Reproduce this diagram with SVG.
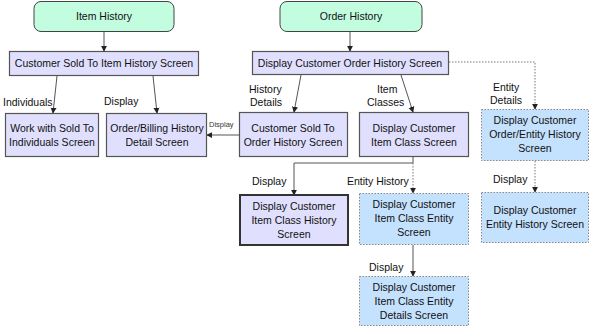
<svg xmlns="http://www.w3.org/2000/svg" width="590" height="326" viewBox="0 0 590 326">
<defs>
<marker id="ah" viewBox="0 0 8 8" refX="7" refY="4" markerWidth="6" markerHeight="7" orient="auto" markerUnits="userSpaceOnUse">
<path d="M0,0 L8,4 L0,8 z" fill="#222"/>
</marker>
</defs>
<style>
.t{font-family:"Liberation Sans",Arial,sans-serif;font-size:10.5px;fill:#111;text-anchor:middle}
.l{font-family:"Liberation Sans",Arial,sans-serif;font-size:10.5px;fill:#111}
.s{font-family:"Liberation Sans",Arial,sans-serif;font-size:7.5px;fill:#333}
.g{fill:#c2fde0;stroke:#444;stroke-width:1}
.p{fill:#e0e0fe;stroke:#555;stroke-width:1.2}
.pb{fill:#e0e0fe;stroke:#333;stroke-width:2}
.b{fill:#c4e1fd;stroke:#888;stroke-width:1;stroke-dasharray:1.5,1.5}
.c{fill:none;stroke:#555;stroke-width:1}
.d{fill:none;stroke:#777;stroke-width:1;stroke-dasharray:1.5,1.5}
</style>
<rect width="590" height="326" fill="#fff"/>
<g id="connectors">
<path class="c" d="M104,32 V51" marker-end="url(#ah)"/>
<path class="c" d="M57,76 L53,113" marker-end="url(#ah)"/>
<path class="c" d="M153,76 L157,113" marker-end="url(#ah)"/>
<path class="c" d="M350,32 V51" marker-end="url(#ah)"/>
<path class="c" d="M301,75 L294,112" marker-end="url(#ah)"/>
<path class="c" d="M401,75 L413,112" marker-end="url(#ah)"/>
<path class="d" d="M449,62 H535 V109" marker-end="url(#ah)"/>
<path class="c" d="M239,135 H207" marker-end="url(#ah)"/>
<path class="c" d="M413,157 V163 H294 V195" marker-end="url(#ah)"/>
<path class="d" d="M413,163 V193" marker-end="url(#ah)"/>
<path class="d" d="M535,161 V192" marker-end="url(#ah)"/>
<path class="c" d="M413,245 V276" marker-end="url(#ah)"/>
<text class="l" x="3" y="106">Individuals</text>
<text class="l" x="104" y="105">Display</text>
<text class="l" x="249" y="93">History</text>
<text class="l" x="250" y="106">Details</text>
<text class="l" x="377" y="93">Item</text>
<text class="l" x="367" y="106">Classes</text>
<text class="l" x="493" y="91">Entity</text>
<text class="l" x="490" y="104">Details</text>
<text class="s" x="209" y="127">Display</text>
<text class="l" x="252" y="185">Display</text>
<text class="l" x="347" y="185">Entity History</text>
<text class="l" x="493" y="183">Display</text>
<text class="l" x="369" y="271">Display</text>
</g>
<g id="item-history">
<rect class="g" x="34" y="1.5" width="140" height="30" rx="7"/>
<text class="t" x="104" y="20">Item History</text>
</g>
<g id="order-history">
<rect class="g" x="280" y="1.5" width="142" height="30" rx="7"/>
<text class="t" x="351" y="20">Order History</text>
</g>
<g id="sold-to-item-history">
<rect class="p" x="9.5" y="51.5" width="189" height="24"/>
<text class="t" x="104" y="67">Customer Sold To Item History Screen</text>
</g>
<g id="work-with-sold-to">
<rect class="p" x="5.5" y="113.5" width="93" height="43"/>
<text class="t" x="52" y="132">Work with Sold To</text>
<text class="t" x="52" y="146">Individuals Screen</text>
</g>
<g id="order-billing-detail">
<rect class="p" x="106.5" y="113.5" width="100" height="43"/>
<text class="t" x="157" y="132">Order/Billing History</text>
<text class="t" x="157" y="146">Detail Screen</text>
</g>
<g id="display-order-history">
<rect class="p" x="252.5" y="51.5" width="196" height="23"/>
<text class="t" x="350" y="67">Display Customer Order History Screen</text>
</g>
<g id="sold-to-order-history">
<rect class="p" x="239.5" y="112.5" width="108" height="44"/>
<text class="t" x="293" y="132">Customer Sold To</text>
<text class="t" x="293" y="146">Order History Screen</text>
</g>
<g id="item-class">
<rect class="p" x="359.5" y="112.5" width="109" height="44"/>
<text class="t" x="414" y="132">Display Customer</text>
<text class="t" x="414" y="146">Item Class Screen</text>
</g>
<g id="order-entity-history">
<rect class="b" x="481.5" y="109.5" width="107" height="51"/>
<text class="t" x="535" y="124">Display Customer</text>
<text class="t" x="535" y="138">Order/Entity History</text>
<text class="t" x="535" y="152">Screen</text>
</g>
<g id="item-class-history">
<rect class="pb" x="240" y="195" width="108" height="50"/>
<text class="t" x="294" y="210">Display Customer</text>
<text class="t" x="294" y="224">Item Class History</text>
<text class="t" x="294" y="238">Screen</text>
</g>
<g id="item-class-entity">
<rect class="b" x="359.5" y="193.5" width="109" height="51"/>
<text class="t" x="414" y="208">Display Customer</text>
<text class="t" x="414" y="222">Item Class Entity</text>
<text class="t" x="414" y="236">Screen</text>
</g>
<g id="entity-history">
<rect class="b" x="481.5" y="192.5" width="107" height="50"/>
<text class="t" x="535" y="214">Display Customer</text>
<text class="t" x="535" y="228">Entity History Screen</text>
</g>
<g id="item-class-entity-details">
<rect class="b" x="359.5" y="276.5" width="109" height="49"/>
<text class="t" x="414" y="291">Display Customer</text>
<text class="t" x="414" y="305">Item Class Entity</text>
<text class="t" x="414" y="319">Details Screen</text>
</g>
</svg>
